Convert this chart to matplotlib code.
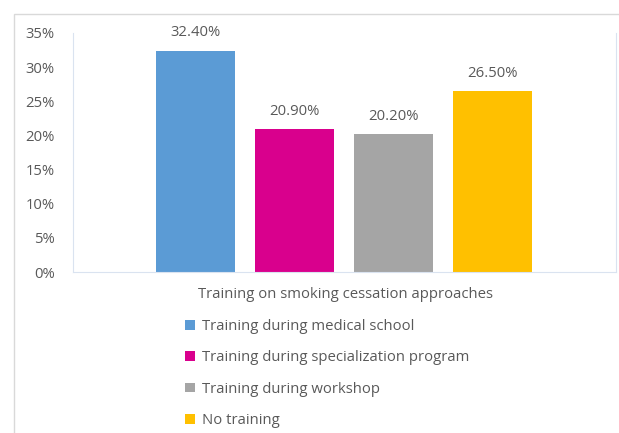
import matplotlib
matplotlib.use("Agg")
import matplotlib.pyplot as plt
from matplotlib.patches import Rectangle, Patch

series = ["Training during medical school", "Training during specialization program",
          "Training during workshop", "No training"]
values = [32.4, 20.9, 20.2, 26.5]
colors = ["#5b9bd5", "#d9008d", "#a5a5a5", "#ffc000"]
xlabel = "Training on smoking cessation approaches"
yticks = [0, 5, 10, 15, 20, 25, 30, 35]

plt.rcParams['font.family'] = ['Open Sans', 'DejaVu Sans']
txt = "#595959"
fs = 10.7

W, H = 619, 433
fig = plt.figure(figsize=(W / 100, H / 100), dpi=100)

# outer chart border
fig.patches.append(Rectangle((14 / W, -0.1), 1.2, 1 - 14 / H + 0.1, transform=fig.transFigure,
                             fill=False, edgecolor="#d9d9d9", linewidth=1))

ax = fig.add_axes([73 / W, 1 - 272 / H, (616 - 73) / W, (272 - 33) / H])
pos = list(range(len(values)))
ax.bar(pos, values, width=0.79, color=colors)
for p, v in zip(pos, values):
    ax.text(p, v + 2.1, f"{v:.2f}%", ha="center", va="baseline", color=txt, fontsize=fs)

ax.set_xlim(-1.237, 4.247)
ax.set_ylim(0, 35)
ax.set_yticks(yticks)
ax.set_yticklabels([f"{t}%" for t in yticks], color=txt, fontsize=fs)
ax.tick_params(axis="y", length=0, pad=13)
ax.set_xticks([])
for s in ["left", "right", "bottom"]:
    ax.spines[s].set_color("#dae3f0")
ax.spines["top"].set_visible(False)

fig.text(345 / W, 1 - 295 / H, xlabel, ha="center", va="center", color=txt, fontsize=fs)

handles = [Patch(facecolor=c, edgecolor="none") for c in colors]
fig.legend(handles, series, loc="upper left", bbox_to_anchor=(185 / W, 1 - 319 / H),
           frameon=False, fontsize=fs, labelcolor=txt, handlelength=0.65, handleheight=0.65,
           handletextpad=0.5, labelspacing=1.1, borderpad=0, borderaxespad=0)

fig.savefig("out.png", dpi=100)
